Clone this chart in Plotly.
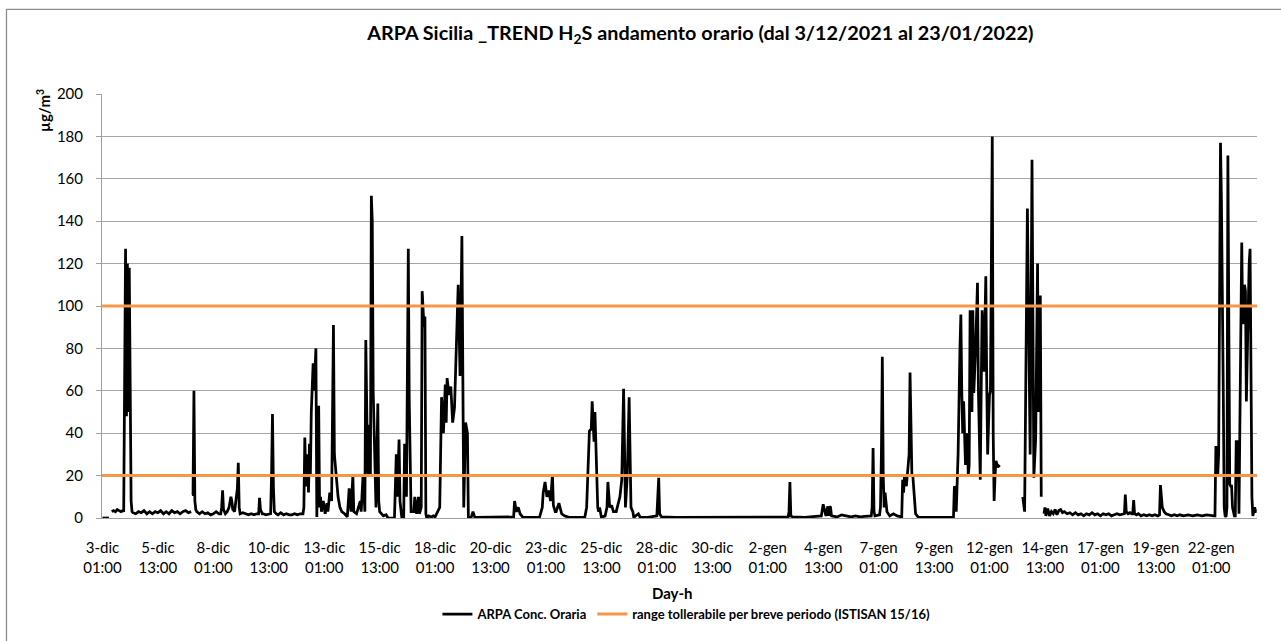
import plotly.graph_objects as go

# hourly H2S readings as (hour since 3-dic 01:00, µg/m3); None marks missing data
readings = [
    (0, 0), (7, 0), (8, None),
    (10, 3), (12, 3.5), (14, 3), (16, 4), (18, 3.5), (20, 3), (22, 3.5), (23, 3),
    (25, 127), (26, 48), (27, 120), (28, 50), (29, 118), (30, 40), (31, 8), (32, 3), (33, 2.5),
    (36, 2), (39, 3), (42, 2.5), (45, 3.5), (48, 2), (51, 3), (54, 2), (57, 3), (60, 2.5),
    (63, 3.5), (66, 2), (69, 3), (72, 2), (75, 3.5), (78, 2.5), (81, 3), (84, 2), (87, 3),
    (90, 3.5), (93, 2.5), (96, 3), (96.5, None),
    (97, 11), (98, 11), (99, 60), (100, 8), (101, 4), (102, 3), (105, 2), (108, 3), (111, 2),
    (114, 2.5), (117, 1.5), (120, 2), (123, 3), (126, 2), (128, 2), (129, 5), (130, 13), (131, 4),
    (133, 2), (135, 3), (137, 5), (139, 10), (140, 8), (141, 4), (143, 3), (145, 13), (146, 14),
    (147, 26), (148, 5), (149, 2), (152, 2.5), (155, 2), (158, 1.5), (161, 2), (164, 1.5),
    (167, 2), (169, 2), (170, 9.5), (171, 4), (173, 2), (174, 2), (177, 1.5), (180, 2), (182, 2),
    (183, 20), (184, 49), (185, 15), (186, 3), (188, 2), (190, 1.5), (193, 2.5), (196, 1.5),
    (199, 2), (202, 1.5), (205, 1.5), (208, 2), (211, 1.5), (214, 2), (217, 2), (218, 5),
    (219, 38), (220, 18), (221, 15), (222, 30), (223, 12), (224, 35), (225, 20), (226, 50),
    (228, 73), (229, 60), (231, 80), (232, 0.5), (233, 30), (234, 53), (235, 5), (236, 10),
    (237, 3), (239, 8), (241, 2), (243, 7), (244, 3), (246, 12), (248, 8), (250, 91), (251, 30),
    (252, 22), (253, 20), (255, 10), (257, 5), (259, 3), (262, 2), (265, 0.5), (267, 14),
    (269, 3), (271, 20), (272, 3), (275, 2), (277, 5), (279, 8), (280, 3), (282, 20), (284, 3),
    (285, 84), (287, 22), (288, 20), (289, 44), (290, 20), (291, 152), (292, 140), (293, 60),
    (295, 20), (296, 5), (298, 54), (299, 8), (300, 3), (304, 1), (307, 1.5), (309, 0), (316, 0),
    (318, 30), (319, 10), (321, 37), (322, 8), (324, 0), (326, 0), (327, 35), (329, 10),
    (331, 127), (332, 56), (333, 37), (334, 3), (337, 3), (338, 10), (340, 2), (342, 10),
    (343, 2), (345, 5), (346, 107), (347, 95), (348, 90), (349, 95), (350, 2), (351, 0), (353, 1),
    (356, 0.5), (358, 1), (360, 0.5), (363, 3), (365, 5), (367, 57), (369, 40), (371, 63),
    (372, 45), (373, 66), (375, 58), (377, 62), (379, 45), (381, 52), (383, 77), (385, 110),
    (387, 67), (389, 133), (391, 5), (393, 45), (395, 40), (396, 0), (399, 0.3), (401, 3),
    (403, 0.3), (420, 0.3), (440, 0.3), (445, 0.5), (446, 8), (448, 3), (450, 5), (452, 2),
    (455, 0.3), (473, 0.3), (476, 5), (477, 12), (479, 17), (481, 10), (483, 13), (485, 8),
    (487, 20.6), (488, 6), (490, 3), (491, 3), (494, 7), (497, 2), (500, 1), (505, 0.3),
    (522, 0.3), (524, 5), (527, 41), (529, 42), (530, 55), (532, 36), (533, 50), (535, 20),
    (536, 5), (537, 3), (538, 5), (540, 0.3), (544, 1), (546, 5), (547, 17), (549, 5), (551, 6),
    (553, 3), (556, 3), (560, 10), (562, 18), (564, 61), (565, 20), (566, 5), (568, 20),
    (570, 57), (572, 5), (574, 3), (575, 0.3), (580, 2), (582, 0.3), (590, 0.3), (600, 1),
    (602, 19), (603, 2), (605, 0.5), (620, 0.3), (640, 0.3), (660, 0.3), (680, 0.3), (700, 0.3),
    (720, 0.3), (742, 0.5), (743, 3), (744, 17), (745, 1), (747, 0.5), (760, 0.3), (778, 1),
    (780, 6.5), (782, 2), (783, 1), (785, 5.5), (786, 1), (787, 5.5), (788, 5), (789, 1),
    (795, 0.5), (800, 1.5), (805, 1), (810, 0.5), (815, 1), (820, 0.5), (825, 0.8), (832, 1),
    (833, 5), (834, 33), (835, 3), (836, 1), (841, 1.5), (842, 5), (843, 30), (844, 76),
    (845, 20), (846, 5), (847, 12), (848, 5), (849, 3), (852, 1), (856, 2), (860, 1), (863, 0.5),
    (865, 0.5), (866, 18), (867, 12), (868, 20), (870, 15), (871, 20), (873, 30), (874, 68.6),
    (875, 40), (876, 20), (877, 20), (878, 12), (879, 5), (880, 2), (883, 0.3), (900, 0.3),
    (921, 0.3), (922, 15), (923, 14), (924, 3), (926, 30), (928, 80), (929, 96), (930, 60),
    (931, 40), (932, 55), (933, 30), (934, 25), (936, 40), (937, 20), (938, 25), (939, 98),
    (940, 60), (941, 50), (942, 98), (943, 59), (945, 80), (947, 111), (948, 60), (950, 18),
    (951, 60), (952, 98), (954, 69), (956, 114), (957, 64), (958, 30), (959, 45), (960, 58),
    (961, 60), (963, 180), (964, 40), (965, 8), (966, 20), (967, 27), (969, 24), (971, 25),
    (972, None),
    (996, 10), (998, 3), (1001, 146), (1002, 100), (1004, 30), (1006, 169), (1007, 60),
    (1008, 19), (1010, 38), (1011, 90), (1012, 120), (1013, 50), (1014, 80), (1015, 105),
    (1016, 10), (1017, None),
    (1019, 2), (1020, 5), (1021, 1), (1023, 4.5), (1025, 1), (1027, 3), (1029, 2), (1031, 4),
    (1033, 1.5), (1035, 3.5), (1037, 4), (1039, 2.5), (1041, 3), (1044, 2), (1047, 2.5),
    (1050, 1.5), (1053, 2.5), (1056, 1.5), (1059, 2), (1062, 1), (1065, 2), (1068, 1.5),
    (1071, 2.5), (1074, 1.5), (1077, 2), (1080, 1), (1083, 2), (1086, 1.5), (1089, 2), (1092, 1),
    (1095, 1.5), (1098, 2), (1101, 1.5), (1104, 2), (1106, 2), (1107, 11), (1108, 3), (1110, 2),
    (1112, 2.5), (1114, 2), (1115, 2), (1116, 8.5), (1117, 2), (1119, 1.5), (1121, 2), (1124, 1),
    (1127, 1.5), (1130, 1), (1133, 1.5), (1136, 1), (1139, 1.5), (1142, 1), (1144, 1.5),
    (1145, 15.5), (1146, 10), (1147, 5), (1149, 3), (1151, 2), (1154, 1.5), (1157, 1),
    (1160, 1.5), (1163, 1), (1166, 1.5), (1170, 1), (1175, 1.5), (1180, 1), (1185, 1.5),
    (1190, 1), (1195, 1.5), (1200, 1), (1203, 1), (1204, 1), (1205, 34), (1206, 20), (1207, 20),
    (1208, 30), (1209, 120), (1210, 177), (1211, 150), (1212, 118), (1213, 60), (1214, 5),
    (1215, 1), (1216, 0.5), (1217, 5), (1218, 171), (1219, 80), (1220, 16), (1221, 15),
    (1222, 15), (1223, 5), (1224, 3), (1225, 1), (1226, 1), (1227, 36), (1228, 36), (1229, 36),
    (1230, 2), (1231, 60), (1232, 100), (1233, 130), (1234, 92), (1235, 92), (1236, 110),
    (1237, 107), (1238, 55), (1239, 80), (1240, 107), (1241, 120), (1242, 127), (1243, 60),
    (1244, 10), (1245, 1), (1246, 3), (1247, 5), (1248, 3), (1249, 3),
]
hours = [h for h, _ in readings]
conc = [v for _, v in readings]

thresholds = [100, 20]
tick_hours = list(range(0, 1201, 60))
tick_days = [
    "3-dic", "5-dic", "8-dic", "10-dic", "13-dic", "15-dic", "18-dic", "20-dic",
    "23-dic", "25-dic", "28-dic", "30-dic", "2-gen", "4-gen", "7-gen", "9-gen",
    "12-gen", "14-gen", "17-gen", "19-gen", "22-gen",
]
tick_times = ["01:00", "13:00"] * 10 + ["01:00"]
n_hours = 1250

FONT = "Lato, 'Liberation Sans', sans-serif"
ORANGE = "#F79646"

fig = go.Figure()
fig.add_trace(go.Scatter(
    x=hours, y=conc, mode="lines", name="ARPA Conc. Oraria",
    line=dict(color="black", width=2.75), connectgaps=False,
))
lim_x, lim_y = [], []
for t in thresholds:
    lim_x += [-0.5, n_hours - 0.5, None]
    lim_y += [t, t, None]
fig.add_trace(go.Scatter(
    x=lim_x, y=lim_y, mode="lines",
    name="range tollerabile per breve periodo (ISTISAN 15/16)",
    line=dict(color=ORANGE, width=3),
))

fig.update_xaxes(
    range=[-0.5, n_hours - 0.5],
    tickvals=tick_hours,
    ticktext=[f"{d}<br>{t}" for d, t in zip(tick_days, tick_times)],
    tickangle=0,
    showgrid=False, zeroline=False,
    showline=True, linecolor="#a0a0a0", linewidth=1,
    ticks="", ticklabelstandoff=16,
    tickfont=dict(size=15, color="black", family=FONT),
)
fig.update_yaxes(
    range=[0, 200], dtick=20,
    showgrid=True, gridcolor="#a6a6a6", gridwidth=1.3,
    zeroline=False,
    showline=True, linecolor="#a0a0a0", linewidth=1,
    ticks="outside", ticklen=5, tickcolor="#a0a0a0", ticklabelstandoff=10,
    tickfont=dict(size=15, color="black", family=FONT),
)

fig.update_layout(
    width=1281, height=641,
    margin=dict(l=102, r=24, t=94, b=119),
    paper_bgcolor="white", plot_bgcolor="white",
    font=dict(family=FONT, color="black"),
    title=dict(
        text="<b>ARPA Sicilia _TREND H<sub>2</sub>S andamento orario (dal 3/12/2021 al 23/01/2022)</b>",
        x=0.518, xref="paper", xanchor="center",
        y=1 - 33 / 641, yref="container", yanchor="middle",
        font=dict(size=19.8, family=FONT, color="black"),
    ),
    showlegend=True,
    legend=dict(
        orientation="h", x=0.506, xanchor="center", y=-0.2266, yanchor="middle",
        font=dict(size=13, family=FONT, color="black", weight="bold"),
        bgcolor="rgba(0,0,0,0)",
    ),
    annotations=[
        dict(text="<b>Day-h</b>", x=0.494, y=-0.1776, xref="paper", yref="paper",
             xanchor="center", yanchor="middle",
             showarrow=False, font=dict(size=15, family=FONT)),
        dict(text="<b>µg/m<sup>3</sup></b>", x=-0.0502, y=0.96, xref="paper", yref="paper",
             xanchor="center", yanchor="middle",
             textangle=-90, showarrow=False, font=dict(size=15, family=FONT)),
    ],
    shapes=[
        dict(type="rect", xref="paper", yref="paper",
             x0=-0.0827, x1=1.03, y0=-0.3, y1=1.1998,
             line=dict(color="#8c8c8c", width=1.3), layer="below"),
    ],
)

fig.write_html(
    "out.html",
    config={"displayModeBar": False},
    post_script="document.body.style.margin='0';",
)
